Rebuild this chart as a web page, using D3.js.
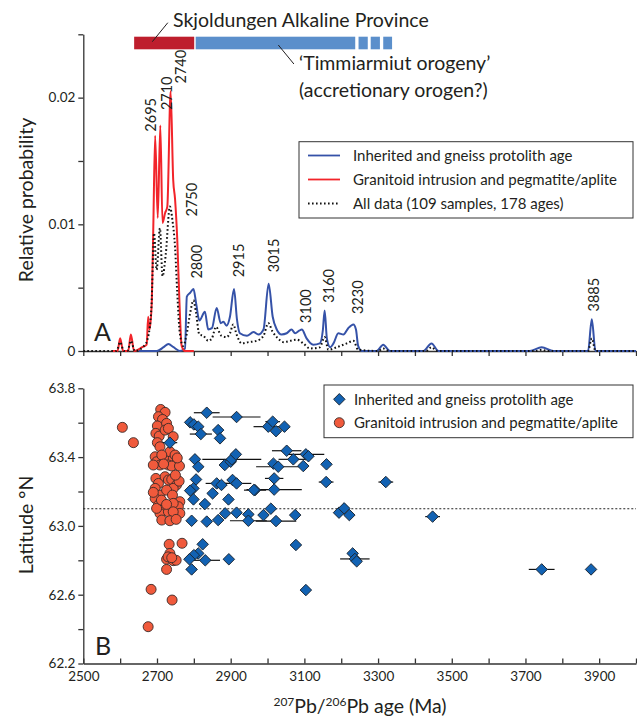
<!DOCTYPE html>
<html>
<head>
<meta charset="utf-8">
<script src="https://cdnjs.cloudflare.com/ajax/libs/d3/7.8.5/d3.min.js"></script>
<style>
  body { margin: 0; background: #fff; }
  svg { font-family: Lato, "Open Sans", sans-serif; }
  .axis path, .axis line { stroke: #333; stroke-width: 1.3px; }
  .axis text { font-size: 13.5px; fill: #231f20; font-family: Lato, sans-serif; }
</style>
</head>
<body>
<div id="chart"></div>
<script>
// ---- data ----
// probability density curves: [age Ma, relative probability]
var inheritedPdf = [
  [2650,0],[2700,0],[2718,0.0003],[2731,0.00055],[2745,0.0003],[2762,0],[2776,0.0002],
  [2781,0.0043],[2790,0.0046],[2799,0.0049],[2806,0.0038],[2815,0.0024],[2830,0.0031],
  [2839,0.0017],[2849,0.0018],[2862,0.0034],[2873,0.0022],[2880,0.0023],[2889,0.002],
  [2898,0.0027],[2909,0.0049],[2917,0.0025],[2925,0.0014],[2944,0.0012],[2962,0.0015],
  [2975,0.0013],[2989,0.0017],[3003,0.0053],[3014,0.0027],[3025,0.0017],[3038,0.0013],
  [3052,0.0014],[3065,0.0017],[3075,0.0014],[3086,0.0016],[3093,0.0017],[3106,0.001],
  [3124,0.0005],[3142,0.0006],[3150,0.0016],[3155,0.0032],[3161,0.001],[3170,0.0003],
  [3179,0.0006],[3192,0.0014],[3206,0.0013],[3219,0.0018],[3233,0.0021],[3240,0.0017],
  [3246,0.0004],[3256,0],[3296,0],[3314,0.0005],[3332,0],[3423,0],[3445,0.0006],
  [3464,0],[3712,0],[3744,0.0003],[3776,0],[3870,0],[3880,0.0025],[3890,0],[4000,0]
];
var granitoidPdf = [
  [2577,0],[2593,0],[2600,0.001],[2608,0],[2622,0],[2629,0.0013],[2638,0],[2660,0.0003],
  [2672,0.0005],[2676,0.0027],[2680,0.0017],[2686,0.004],[2690,0.0098],[2695,0.017],
  [2702,0.0105],[2709,0.0178],[2715,0.0101],[2722,0.0109],[2728,0.0114],[2737,0.0205],
  [2744,0.0135],[2749,0.012],[2755,0.0088],[2761,0.0038],[2767,0.0004],[2776,0],[2800,0]
];
var allPdf = [
  [2500,0],[2590,0],[2600,0.0007],[2610,0],[2620,0],[2629,0.0008],[2640,0],[2665,0.0004],
  [2675,0.001],[2685,0.0035],[2692,0.0093],[2699,0.0064],[2708,0.0097],[2715,0.0059],
  [2724,0.0077],[2735,0.0114],[2742,0.0103],[2749,0.0082],[2755,0.0046],[2762,0.0014],
  [2771,0.0004],[2781,0.0014],[2790,0.003],[2799,0.004],[2806,0.003],[2815,0.0013],
  [2826,0.0012],[2839,0.0008],[2849,0.001],[2860,0.0019],[2875,0.0012],[2889,0.0011],
  [2898,0.0014],[2907,0.0021],[2916,0.0013],[2930,0.0006],[2948,0.0007],[2970,0.0008],
  [2989,0.0012],[3002,0.0022],[3014,0.0015],[3025,0.0011],[3043,0.0007],[3061,0.0008],
  [3079,0.0009],[3097,0.0006],[3115,0.0002],[3142,0.0003],[3155,0.0011],[3165,0.0001],
  [3188,0.0003],[3215,0.0006],[3233,0.0008],[3246,0.0001],[3300,0],[3314,0.0002],
  [3330,0],[3430,0],[3445,0.0003],[3460,0],[3730,0],[3744,0.0001],[3760,0],[3870,0],
  [3880,0.001],[3890,0],[4000,0]
];
var peakLabels = [2695, 2710, 2740, 2750, 2800, 2915, 3015, 3100, 3160, 3230, 3885];
var peakLabelX = [2683, 2726, 2766, 2794, 2808, 2922, 3018, 3105, 3168, 3245, 3885];
var peakLabelBase = [0.0170, 0.0187, 0.0208, 0.0103, 0.0054, 0.0055, 0.0059, 0.0019, 0.0035, 0.0026, 0.0028];

// province bars [start, end]
var skjoldungenBar = [2638, 2801];
var timmiarmiutBar = [2805, 3238];
var timmiarmiutDash = [[3247, 3272], [3280, 3305], [3314, 3338]];

// panel B points: granitoids [age, latitude]
var granitoidPts = [
  [2606,63.573],[2636,63.484],
  [2710,63.677],[2722,63.66],[2704,63.635],[2715,63.619],[2701,63.581],[2726,63.596],
  [2697,63.538],[2706,63.522],[2722,63.557],[2731,63.567],[2744,63.519],[2701,63.484],
  [2708,63.46],[2695,63.402],[2699,63.373],[2708,63.354],[2722,63.383],[2735,63.431],
  [2744,63.387],[2753,63.363],[2731,63.354],[2690,63.354],[2713,63.412],[2740,63.348],
  [2761,63.348],[2749,63.412],[2718,63.36],[2755,63.395],
  [2697,63.276],[2704,63.247],[2722,63.286],[2731,63.267],[2740,63.27],[2753,63.238],
  [2744,63.218],[2695,63.218],[2708,63.179],[2726,63.208],[2742,63.179],[2695,63.16],
  [2762,63.141],[2758,63.112],[2744,63.131],[2704,63.121],[2717,63.092],[2708,63.073],
  [2731,63.082],[2762,63.073],[2744,63.082],[2713,63.034],[2735,63.03],[2752,63.038],
  [2699,63.102],[2760,63.26],[2712,63.15],[2726,63.125],[2690,63.195],[2750,63.295],
  [2733,62.893],[2768,62.899],[2735,62.84],[2726,62.806],[2744,62.798],[2752,62.8],
  [2730,62.82],[2740,62.815],[2726,62.747],[2684,62.631],[2741,62.569],[2676,62.414]
];
// inherited / gneiss protolith [age, latitude, 2-sigma half width]
var inheritedPts = [
  [2835,63.658,35],[2916,63.633,65],[2790,63.602,0],[2800,63.59,0],[2812,63.577,0],
  [2819,63.534,30],[2866,63.557,0],[2871,63.509,0],[2735,63.484,20],[3002,63.577,40],
  [3014,63.606,20],[3023,63.551,0],[3046,63.577,0],
  [2803,63.387,0],[2812,63.344,0],[2884,63.354,0],[2900,63.373,0],[2903,63.387,80],
  [2914,63.416,0],[3052,63.437,40],[3070,63.387,40],[3104,63.416,50],[3111,63.405,0],
  [3097,63.348,0],[3016,63.362,0],[3029,63.344,60],[3160,63.358,0],
  [2806,63.27,0],[2799,63.218,0],[2790,63.205,0],[2862,63.247,30],[2875,63.238,0],
  [2905,63.267,0],[2916,63.247,40],[2966,63.208,30],[3018,63.276,25],[3159,63.255,20],
  [3321,63.255,20],[2963,63.209,0],[3018,63.211,75],
  [2799,63.154,0],[2830,63.127,0],[2851,63.189,0],[2894,63.154,0],[2885,63.073,0],
  [2916,63.077,0],[2948,63.067,0],[2989,63.063,0],[3009,63.1,0],[3023,63.028,55],
  [2794,63.03,0],[2835,63.025,0],[2866,63.034,0],[2948,63.03,50],[3075,63.063,0],
  [3194,63.077,0],[3208,63.102,0],[3222,63.063,0],[3448,63.054,20],
  [2824,62.893,0],[2812,62.84,0],[2800,62.83,0],[2788,62.806,0],[2831,62.8,40],
  [2895,62.806,0],[2794,62.747,15],[3077,62.889,0],[3231,62.84,0],[3237,62.808,40],
  [3242,62.794,0],[3104,62.627,0],[3744,62.747,35],[3878,62.747,0]
];
var dividerLat = 63.1;

var probTicks = [0, 0.005, 0.01, 0.015, 0.02, 0.025];
var latTicks = [62.2, 62.4, 62.6, 62.8, 63.0, 63.2, 63.4, 63.6, 63.8];
var ageTicks = d3.range(2500, 4001, 100);
var ageLabels = d3.range(2500, 3901, 200);

// ---- drawing ----
var W = 637, H = 721;
var svg = d3.select('#chart').append('svg').attr('width', W).attr('height', H);

var x = d3.scaleLinear().domain([2500, 4000]).range([83.3, 636]);
var yA = d3.scaleLinear().domain([0, 0.025]).range([351, 34.3]);
var yB = d3.scaleLinear().domain([62.2, 63.8]).range([663.5, 388.3]);

var blue = '#3552a8', red = '#f2242a', ink = '#231f20';

// panel A axes
svg.append('g').attr('class', 'axis').attr('transform', 'translate(0,351)')
  .call(d3.axisBottom(x).tickValues(ageTicks).tickSize(5).tickSizeOuter(0).tickFormat(''));
svg.append('g').attr('class', 'axis').attr('transform', 'translate(83.3,0)')
  .call(d3.axisLeft(yA).tickValues(probTicks).tickSize(5).tickSizeOuter(0)
    .tickFormat(function(d){ return (d == 0) ? '0' : (Math.abs(d*100 - Math.round(d*100)) < 1e-9 ? d3.format('.2f')(d) : ''); }));

// bars on top
svg.append('rect').attr('x', x(skjoldungenBar[0])).attr('y', 36.7)
  .attr('width', x(skjoldungenBar[1]) - x(skjoldungenBar[0])).attr('height', 12.6).attr('fill', '#be1e2d');
svg.append('rect').attr('x', x(timmiarmiutBar[0])).attr('y', 36.7)
  .attr('width', x(timmiarmiutBar[1]) - x(timmiarmiutBar[0])).attr('height', 12.6).attr('fill', '#5b8fcb');
svg.selectAll('.dash').data(timmiarmiutDash).enter().append('rect')
  .attr('x', function(d){ return x(d[0]); }).attr('y', 36.7)
  .attr('width', function(d){ return x(d[1]) - x(d[0]); }).attr('height', 12.6).attr('fill', '#5b8fcb');

svg.append('line').attr('x1', 152.3).attr('y1', 41.7).attr('x2', 167.8).attr('y2', 22.7)
  .attr('stroke', ink).attr('stroke-width', 1);
svg.append('text').attr('x', 173).attr('y', 27).attr('font-size', 19.5).attr('fill', ink)
  .text('Skjoldungen Alkaline Province');
svg.append('line').attr('x1', 278.3).attr('y1', 45).attr('x2', 293.9).attr('y2', 64)
  .attr('stroke', ink).attr('stroke-width', 1);
svg.append('text').attr('x', 299).attr('y', 70).attr('font-size', 19.5).attr('fill', ink)
  .text('\u2018Timmiarmiut orogeny\u2019');
svg.append('text').attr('x', 299).attr('y', 97).attr('font-size', 19.5).attr('fill', ink)
  .text('(accretionary orogen?)');

// curves
var line = d3.line().x(function(d){ return x(d[0]); }).y(function(d){ return yA(d[1]); })
  .curve(d3.curveMonotoneX);
svg.append('path').datum(inheritedPdf).attr('d', line).attr('fill', 'none')
  .attr('stroke', blue).attr('stroke-width', 2);
svg.append('path').datum(granitoidPdf).attr('d', line).attr('fill', 'none')
  .attr('stroke', red).attr('stroke-width', 2);
svg.append('path').datum(allPdf).attr('d', line).attr('fill', 'none')
  .attr('stroke', '#111').attr('stroke-width', 2).attr('stroke-dasharray', '1.6,2.4');

// peak labels
peakLabels.forEach(function(p, i){
  var px = x(peakLabelX[i]), py = yA(peakLabelBase[i]) - 4;
  svg.append('text').attr('transform', 'translate(' + (px + 5) + ',' + py + ') rotate(-90)')
    .attr('font-size', 14.5).attr('fill', ink).text(p);
});

svg.append('text').attr('x', 94).attr('y', 341).attr('font-size', 25).attr('fill', ink).text('A');

// legend A
svg.append('rect').attr('x', 299).attr('y', 141.7).attr('width', 334).attr('height', 76.3)
  .attr('fill', '#fff').attr('stroke', '#333').attr('stroke-width', 1);
var legA = [
  {label: 'Inherited and gneiss protolith age', color: blue, dash: null},
  {label: 'Granitoid intrusion and pegmatite/aplite', color: red, dash: null},
  {label: 'All data (109 samples, 178 ages)', color: '#111', dash: '1.6,2.4'}
];
legA.forEach(function(d, i){
  var ly = 155.5 + i * 24;
  svg.append('line').attr('x1', 308).attr('x2', 340).attr('y1', ly).attr('y2', ly)
    .attr('stroke', d.color).attr('stroke-width', 1.8).attr('stroke-dasharray', d.dash);
  svg.append('text').attr('x', 353).attr('y', ly + 5.3).attr('font-size', 15).attr('fill', ink).text(d.label);
});

svg.append('text').attr('transform', 'translate(33,200) rotate(-90)').attr('text-anchor', 'middle')
  .attr('font-size', 19.5).attr('fill', ink).text('Relative probability');

// panel B axes
svg.append('g').attr('class', 'axis').attr('transform', 'translate(0,663.5)')
  .call(d3.axisTop(x).tickValues(ageTicks).tickSize(5).tickSizeOuter(0).tickFormat(''));
svg.append('g').attr('class', 'axis labels').attr('transform', 'translate(0,663.5)')
  .call(d3.axisBottom(x).tickValues(ageLabels).tickSize(0).tickPadding(8).tickFormat(d3.format('d')))
  .select('.domain').remove();
svg.append('g').attr('class', 'axis').attr('transform', 'translate(83.3,0)')
  .call(d3.axisLeft(yB).tickValues(latTicks).tickSize(5).tickSizeOuter(0)
    .tickFormat(function(d){ return Math.round(d*10) % 4 == 2 ? d3.format('.1f')(d) : ''; }));

// divider
svg.append('line').attr('x1', x(2500)).attr('x2', x(4000)).attr('y1', yB(dividerLat)).attr('y2', yB(dividerLat))
  .attr('stroke', '#222').attr('stroke-width', 1.1).attr('stroke-dasharray', '2,2');

// error bars and diamonds
var bars = svg.append('g');
bars.selectAll('line').data(inheritedPts.filter(function(d){ return d[2] > 0; })).enter().append('line')
  .attr('x1', function(d){ return x(d[0] - d[2]); }).attr('x2', function(d){ return x(d[0] + d[2]); })
  .attr('y1', function(d){ return yB(d[1]); }).attr('y2', function(d){ return yB(d[1]); })
  .attr('stroke', '#111').attr('stroke-width', 1.2);

svg.append('g').selectAll('circle').data(granitoidPts).enter().append('circle')
  .attr('cx', function(d){ return x(d[0]); }).attr('cy', function(d){ return yB(d[1]); })
  .attr('r', 5).attr('fill', '#f05a3c').attr('stroke', '#3a2a28').attr('stroke-width', 0.9);

var diamond = d3.symbol().type(d3.symbolSquare).size(66);
svg.append('g').selectAll('path').data(inheritedPts).enter().append('path')
  .attr('d', diamond)
  .attr('transform', function(d){ return 'translate(' + x(d[0]) + ',' + yB(d[1]) + ') rotate(45)'; })
  .attr('fill', '#1262b3').attr('stroke', '#1a2530').attr('stroke-width', 0.9);

svg.append('text').attr('x', 95).attr('y', 655).attr('font-size', 25).attr('fill', ink).text('B');

// legend B
svg.append('rect').attr('x', 324).attr('y', 385).attr('width', 309).attr('height', 52.7)
  .attr('fill', '#fff').attr('stroke', '#333').attr('stroke-width', 1);
svg.append('path').attr('d', diamond).attr('transform', 'translate(339.3,399.3) rotate(45)')
  .attr('fill', '#1262b3').attr('stroke', '#1a2530').attr('stroke-width', 0.9);
svg.append('circle').attr('cx', 339.3).attr('cy', 422.7).attr('r', 5)
  .attr('fill', '#f05a3c').attr('stroke', '#3a2a28').attr('stroke-width', 0.9);
svg.append('text').attr('x', 354).attr('y', 404.5).attr('font-size', 15).attr('fill', ink)
  .text('Inherited and gneiss protolith age');
svg.append('text').attr('x', 354).attr('y', 428).attr('font-size', 15).attr('fill', ink)
  .text('Granitoid intrusion and pegmatite/aplite');

svg.append('text').attr('transform', 'translate(33,525) rotate(-90)').attr('text-anchor', 'middle')
  .attr('font-size', 19.5).attr('fill', ink).text('Latitude \u00B0N');

// x axis title with superscripts
var xt = svg.append('text').attr('x', 360).attr('y', 713).attr('text-anchor', 'middle')
  .attr('font-size', 19.5).attr('fill', ink);
xt.append('tspan').attr('font-size', 12).attr('dy', -7).text('207');
xt.append('tspan').attr('dy', 7).text('Pb/');
xt.append('tspan').attr('font-size', 12).attr('dy', -7).text('206');
xt.append('tspan').attr('dy', 7).text('Pb age (Ma)');
</script>
</body>
</html>
